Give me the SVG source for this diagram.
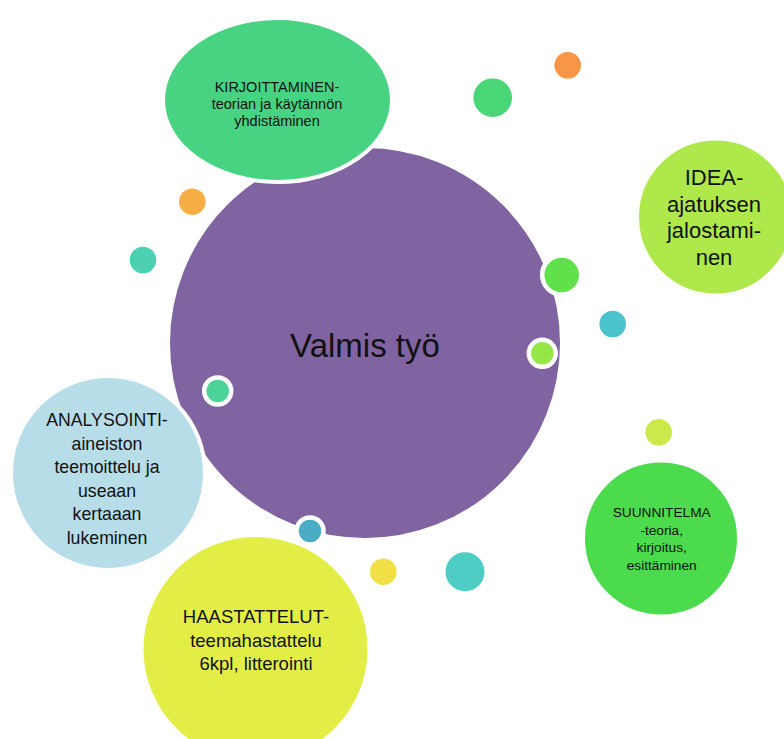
<svg xmlns="http://www.w3.org/2000/svg" width="784" height="739" viewBox="0 0 784 739">
<style>
.t{font-family:"Liberation Sans","DejaVu Sans",sans-serif;fill:#111;text-anchor:middle}
.w{stroke:#fff;stroke-width:4}
.ws{stroke:#fff;stroke-width:4.5}
</style>
<rect width="784" height="739" fill="#fff"/>
<g id="valmis">
<circle cx="365" cy="343" r="197" fill="#8064A2" class="w"/>
<text class="t" x="365" y="356.5" font-size="33">Valmis työ</text>
</g>
<g id="dots">
<circle cx="567.7" cy="65.3" r="13.3" fill="#F79646"/>
<circle cx="492.7" cy="97.7" r="19.3" fill="#49D677"/>
<circle cx="192.3" cy="201.7" r="13.3" fill="#F6AE45"/>
<circle cx="143" cy="260" r="13.3" fill="#4DCFB2"/>
<circle cx="561.7" cy="275" r="19.5" fill="#60E04B" class="ws"/>
<circle cx="612.7" cy="324" r="13.3" fill="#4AC3CC"/>
<circle cx="542.3" cy="353.3" r="13.5" fill="#95E647" class="ws"/>
<circle cx="217.7" cy="391" r="13.5" fill="#4CD39A" class="ws"/>
<circle cx="658.7" cy="432.3" r="13.3" fill="#CBE94B"/>
<circle cx="310" cy="531" r="13.5" fill="#4BACC6" class="ws"/>
<circle cx="383.3" cy="571.7" r="13.3" fill="#F1E045"/>
<circle cx="465" cy="571.7" r="19.5" fill="#4ECDC4"/>
</g>
<g id="kirjoittaminen">
<ellipse cx="277.5" cy="100" rx="114.5" ry="82" fill="#48D383" class="w"/>
<text class="t" font-size="14.5"><tspan x="277" y="92">KIRJOITTAMINEN-</tspan><tspan x="277" y="109">teorian ja käytännön</tspan><tspan x="277" y="126">yhdistäminen</tspan></text>
</g>
<g id="idea">
<circle cx="715.5" cy="217" r="78.5" fill="#AEE84B" class="w"/>
<text class="t" font-size="22"><tspan x="714" y="185">IDEA-</tspan><tspan x="714" y="211.5">ajatuksen</tspan><tspan x="714" y="238">jalostami-</tspan><tspan x="714" y="264.5">nen</tspan></text>
</g>
<g id="analysointi">
<circle cx="108" cy="473" r="97" fill="#B7DDE8" class="w"/>
<text class="t" font-size="17.7"><tspan x="107" y="426">ANALYSOINTI-</tspan><tspan x="107" y="449.6">aineiston</tspan><tspan x="107" y="473.2">teemoittelu ja</tspan><tspan x="107" y="496.8">useaan</tspan><tspan x="107" y="520.4">kertaaan</tspan><tspan x="107" y="544">lukeminen</tspan></text>
</g>
<g id="haastattelut">
<circle cx="255.5" cy="649" r="114" fill="#E2EE46" class="w"/>
<text class="t" font-size="18.5"><tspan x="256" y="623">HAASTATTELUT-</tspan><tspan x="256" y="646.5">teemahastattelu</tspan><tspan x="256" y="670">6kpl, litterointi</tspan></text>
</g>
<g id="suunnitelma">
<circle cx="661" cy="538.5" r="78" fill="#4BDB4C" class="w"/>
<text class="t" font-size="13.7"><tspan x="661.7" y="517.3">SUUNNITELMA</tspan><tspan x="661.7" y="534.8">-teoria,</tspan><tspan x="661.7" y="552.3">kirjoitus,</tspan><tspan x="661.7" y="569.8">esittäminen</tspan></text>
</g>
<g id="connectors"></g>
</svg>
